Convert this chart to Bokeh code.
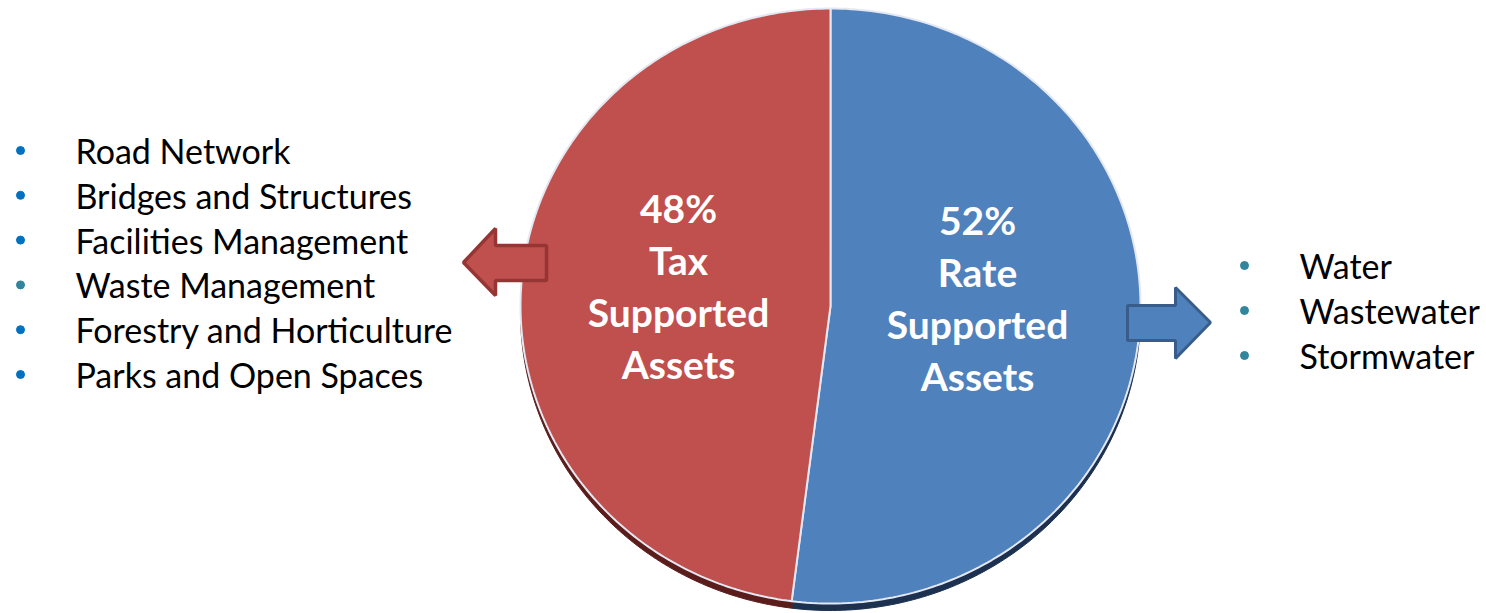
import numpy as np
from bokeh.plotting import figure
from bokeh.models import Range1d
from bokeh.core.properties import value
from bokeh.embed import file_html
from bokeh.resources import INLINE

# ---- data ----
slice_names = ["Rate Supported Assets", "Tax Supported Assets"]
slice_short = ["Rate", "Tax"]
slice_values = [52, 48]
slice_colors = ["#4f81bd", "#c0504d"]
slice_dark = ["#1c3050", "#5a1d1c"]

tax_items = ["Road Network", "Bridges and Structures", "Facilities Management",
             "Waste Management", "Forestry and Horticulture", "Parks and Open Spaces"]
tax_bullet_colors = ["#0070c0", "#0070c0", "#0070c0", "#31859c", "#0070c0", "#0070c0"]
rate_items = ["Water", "Wastewater", "Stormwater"]
rate_bullet_colors = ["#31859c", "#31859c", "#31859c"]

# ---- layout ----
W, H = 1486, 613
CX, CY, RX, RY = 830, 307.5, 310, 297.5
DEPTH = 7
FONT = "Lato"

p = figure(width=W, height=H, x_range=Range1d(0, W), y_range=Range1d(0, H),
           output_backend="svg", toolbar_location=None, min_border=0)
p.axis.visible = False
p.grid.visible = False
p.outline_line_color = None
p.background_fill_color = "white"
p.border_fill_color = "white"

# slice polygons from values (start at top, clockwise)
total = float(sum(slice_values))
fracs = np.cumsum([0] + slice_values) / total
start_deg = 90.0
polys = []
for i in range(len(slice_values)):
    a0 = np.radians(start_deg - 360 * fracs[i])
    a1 = np.radians(start_deg - 360 * fracs[i + 1])
    th = np.linspace(a0, a1, 200)
    xs = np.concatenate([[CX], CX + RX * np.cos(th), [CX]])
    ys = np.concatenate([[CY], CY + RY * np.sin(th), [CY]])
    polys.append((xs, ys))

# depth (3D side)
p.patches([xs for xs, ys in polys], [ys - DEPTH for xs, ys in polys],
          fill_color=slice_dark, line_color=slice_dark, line_width=1)
# top faces
p.patches([xs for xs, ys in polys], [ys for xs, ys in polys],
          fill_color=slice_colors, line_color="#e4e8f2", line_width=2)

# slice labels
label_pos = {"Rate": (977, 394), "Tax": (678, 406)}
LS = 52
for name, short, v in zip(slice_names, slice_short, slice_values):
    lx, ly = label_pos[short]
    lines = [f"{v}%", short, "Supported", "Assets"]
    p.text(x=[lx] * 4, y=[ly - k * LS for k in range(4)], text=lines,
           text_align="center", text_baseline="middle", text_color="white",
           text_font=value(FONT), text_font_style="bold", text_font_size="39px")

# arrows (decorative)
ax = [463, 495, 495, 546, 546, 495, 495]
ay = [351, 385, 368, 368, 333, 333, 318]
p.patch(ax, ay, fill_color="#c0504d", line_color="#963634", line_width=3.5)
bx = [1127, 1175, 1175, 1210, 1175, 1175, 1127]
by = [308, 308, 326, 291, 255, 273, 273]
p.patch(bx, by, fill_color="#4f81bd", line_color="#385d8a", line_width=3)

# lists
LSP = 44.8
ty = [463 - k * LSP for k in range(len(tax_items))]
p.scatter(x=[20] * len(tax_items), y=ty, size=8, color=tax_bullet_colors)
p.text(x=[75] * len(tax_items), y=ty, text=tax_items, text_align="left",
       text_baseline="middle", text_color="black", text_font=value(FONT),
       text_font_size="34px")
ry2 = [348 - k * 45 for k in range(len(rate_items))]
p.scatter(x=[1244] * len(rate_items), y=ry2, size=8, color=rate_bullet_colors)
p.text(x=[1299] * len(rate_items), y=ry2, text=rate_items, text_align="left",
       text_baseline="middle", text_color="black", text_font=value(FONT),
       text_font_size="34px")

open("out.html", "w").write(file_html(p, INLINE))
